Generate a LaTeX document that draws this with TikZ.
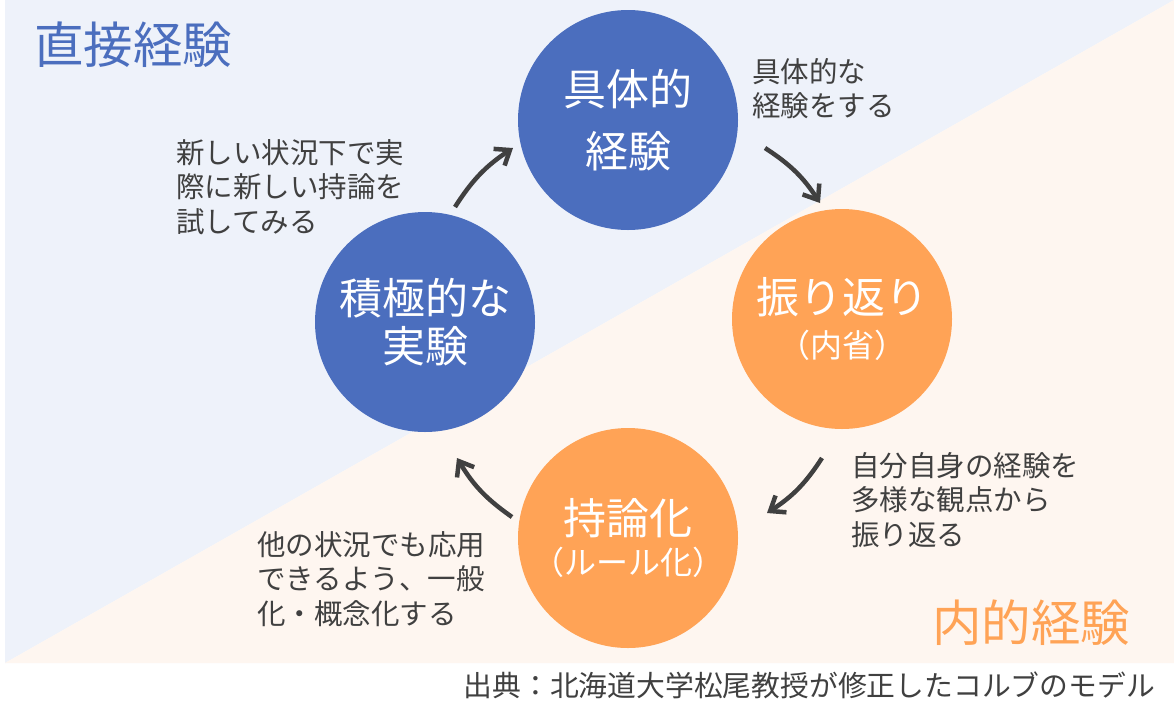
\documentclass[tikz,border=0pt]{standalone}
\usepackage{fontspec}
\setmainfont{Noto Sans CJK JP}
\usetikzlibrary{arrows.meta}
\definecolor{cblue}{HTML}{4B6EBE}
\definecolor{corange}{HTML}{FFA356}
\definecolor{bgblue}{HTML}{EEF2FA}
\definecolor{bgorange}{HTML}{FEF6F0}
\definecolor{ctext}{HTML}{404040}
\begin{document}
\begin{tikzpicture}[x=1pt,y=1pt,
  circ/.style={circle, minimum size=220pt, inner sep=0pt, text=white, align=center},
  bluec/.style={circ, fill=cblue},
  orc/.style={circ, fill=corange},
  note/.style={anchor=west, inner sep=0pt, align=left, text=ctext, font=\fontsize{28.5}{34.5}\selectfont},
  arr/.style={draw=ctext, line width=4.5pt, -{Straight Barb[length=13pt,width=20pt]}},
  title/.style={anchor=west, inner sep=0pt, font=\fontsize{49.5}{55}\selectfont},
]
\useasboundingbox (0,0) rectangle (1174,-724);
\fill[white] (0,0) rectangle (1174,-724);
\fill[bgblue] (5,0) -- (1174,0) -- (5,-663) -- cycle;
\fill[bgorange] (1174,0) -- (1174,-663) -- (5,-663) -- cycle;

\node[title, text=cblue] (t1) at (34,-45) {直接経験};
\node[title, text=corange] (t2) at (932,-623) {内的経験};

\node[bluec, font=\fontsize{43}{62}\selectfont] (c1) at (628,-120) {具体的\\経験};
\node[orc, font=\fontsize{43}{44}\selectfont] (c2) at (842,-319) {振り返り\\{\fontsize{32}{36}\selectfont （内省）}};
\node[orc, font=\fontsize{43}{40}\selectfont] (c3) at (628,-538) {持論化\\{\fontsize{32}{36}\selectfont （ルール化）}};
\node[bluec, font=\fontsize{43}{48}\selectfont] (c4) at (425,-322) {積極的な\\実験};

\node[note] (n1) at (752,-88.5) {具体的な\\経験をする};
\node[note] (n2) at (176,-187) {新しい状況下で実\\際に新しい持論を\\試してみる};
\node[note] (n3) at (851,-500) {自分自身の経験を\\多様な観点から\\振り返る};
\node[note] (n4) at (257,-579) {他の状況でも応用\\できるよう、一般\\化・概念化する};

\node[anchor=east, inner sep=0pt, text=ctext, font=\fontsize{28.8}{32}\selectfont] (src) at (1155,-685) {出典：北海道大学松尾教授が修正したコルブのモデル};

\coordinate (a1s) at (455,-207);
\coordinate (a1e) at (513,-148);
\coordinate (a2s) at (765,-148);
\coordinate (a2e) at (820,-203);
\coordinate (a3s) at (822,-458);
\coordinate (a3e) at (767,-513);
\coordinate (a4s) at (512,-517);
\coordinate (a4e) at (457,-458);
\draw[arr] (a1s) to[bend left=12] (a1e);
\draw[arr] (a2s) to[bend left=12] (a2e);
\draw[arr] (a3s) to[bend left=12] (a3e);
\draw[arr] (a4s) to[bend left=12] (a4e);
\end{tikzpicture}
\end{document}
